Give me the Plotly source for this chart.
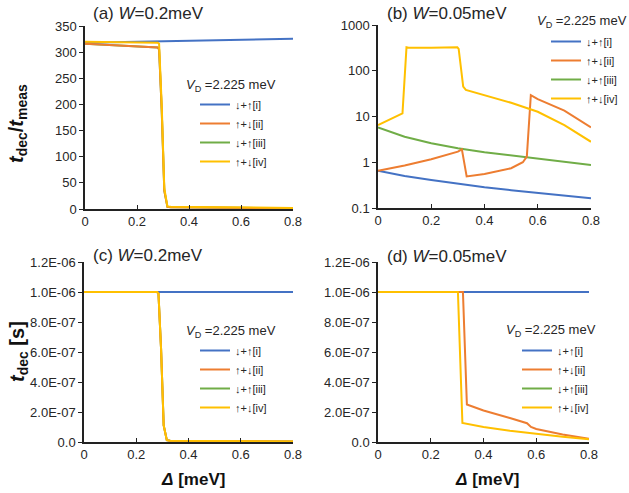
import plotly.graph_objects as go

W, H = 629, 493

# ---------------- data ----------------
series_names = ["↓+↑[i]", "↑+↓[ii]", "↓+↑[iii]", "↑+↓[iv]"]
series_colors = ["#4472C4", "#ED7D31", "#70AD47", "#FFC000"]

# panel (a): t_dec / t_meas, W = 0.2 meV
a_x_i = [0, 0.2, 0.4, 0.6, 0.8]
a_y_i = [318, 320, 322, 324, 325.5]
a_x_ii = [0, 0.28, 0.285, 0.295, 0.305, 0.317, 0.33, 0.5, 0.8]
a_y_ii = [316, 309, 305, 190, 35, 4, 3.5, 2.5, 1.5]
a_x_iii = [0, 0.28, 0.285, 0.295, 0.305, 0.317, 0.33, 0.5, 0.8]
a_y_iii = [316, 309, 305, 190, 35, 4, 3.5, 2.5, 1.5]
a_x_iv = [0, 0.28, 0.285, 0.295, 0.305, 0.317, 0.33, 0.5, 0.8]
a_y_iv = [320, 318, 316, 200, 40, 5, 4.5, 3.5, 2]

# panel (b): t_dec / t_meas, W = 0.05 meV (log)
b_x_i = [0, 0.1, 0.2, 0.3, 0.4, 0.5, 0.6, 0.7, 0.8]
b_y_i = [0.65, 0.50, 0.41, 0.34, 0.285, 0.245, 0.214, 0.187, 0.164]
b_x_ii = [0, 0.1, 0.2, 0.3, 0.315, 0.333, 0.4, 0.5, 0.544, 0.559, 0.574, 0.6, 0.7, 0.8]
b_y_ii = [0.65, 0.85, 1.16, 1.71, 1.92, 0.49, 0.556, 0.74, 1.0, 1.33, 29.4, 24, 13.4, 5.8]
b_x_iii = [0, 0.1, 0.2, 0.3, 0.4, 0.5, 0.6, 0.7, 0.8]
b_y_iii = [5.8, 3.6, 2.6, 2.02, 1.65, 1.4, 1.2, 1.03, 0.875]
b_x_iv = [0, 0.092, 0.107, 0.115, 0.2, 0.298, 0.303, 0.32, 0.33, 0.4, 0.5, 0.6, 0.7, 0.8]
b_y_iv = [6.5, 11.7, 325, 318, 318, 325, 300, 45, 38, 29, 20, 12.7, 6.5, 2.8]

# panel (c): t_dec [s], W = 0.2 meV
c_x_i = [0, 0.8]
c_y_i = [1.0e-6, 1.0e-6]
c_x_drop = [0, 0.28, 0.285, 0.295, 0.305, 0.317, 0.33, 0.5, 0.8]
c_y_drop = [1.0e-6, 1.0e-6, 0.99e-6, 0.62e-6, 0.11e-6, 0.012e-6, 0.009e-6, 0.006e-6, 0.004e-6]

# panel (d): t_dec [s], W = 0.05 meV
d_x_i = [0, 0.8]
d_y_i = [1.0e-6, 1.0e-6]
d_x_ii = [0, 0.322, 0.337, 0.4, 0.5, 0.565, 0.58, 0.6, 0.7, 0.8]
d_y_ii = [1.0e-6, 1.0e-6, 0.25e-6, 0.21e-6, 0.16e-6, 0.125e-6, 0.1e-6, 0.087e-6, 0.05e-6, 0.022e-6]
d_x_iii = [0, 0.8]
d_y_iii = [1.0e-6, 1.0e-6]
d_x_iv = [0, 0.303, 0.32, 0.4, 0.5, 0.6, 0.7, 0.8]
d_y_iv = [1.0e-6, 1.0e-6, 0.127e-6, 0.10e-6, 0.075e-6, 0.053e-6, 0.035e-6, 0.018e-6]

lin_ticks = [0, 50, 100, 150, 200, 250, 300, 350]
log_ticks = [0.1, 1, 10, 100, 1000]
log_ticktext = ["0.1", "1", "10", "100", "1000"]
sec_ticks = [0, 0.2e-6, 0.4e-6, 0.6e-6, 0.8e-6, 1.0e-6, 1.2e-6]
sec_ticktext = ["0.0", "2.0E-07", "4.0E-07", "6.0E-07", "8.0E-07", "1.0E-06", "1.2E-06"]
x_ticks = [0, 0.2, 0.4, 0.6, 0.8]
x_ticktext = ["0", "0.2", "0.4", "0.6", "0.8"]

panels = {
    "a": [(a_x_i, a_y_i), (a_x_ii, a_y_ii), (a_x_iii, a_y_iii), (a_x_iv, a_y_iv)],
    "b": [(b_x_i, b_y_i), (b_x_ii, b_y_ii), (b_x_iii, b_y_iii), (b_x_iv, b_y_iv)],
    "c": [(c_x_i, c_y_i), (c_x_drop, c_y_drop), (c_x_drop, c_y_drop), (c_x_drop, c_y_drop)],
    "d": [(d_x_i, d_y_i), (d_x_ii, d_y_ii), (d_x_iii, d_y_iii), (d_x_iv, d_y_iv)],
}

# ---------------- layout geometry (screen pixels) ----------------
FONT = "Liberation Sans, Arial, sans-serif"
TXT = "#262626"

def px_x(p):
    return p / W

def px_y(p):
    return 1 - p / H

geom = {
    "a": ("x", "y", 85, 293, 26, 209, "legend", (195, 90)),
    "b": ("x2", "y2", 378, 591, 25, 208, "legend2", (546, 27)),
    "c": ("x3", "y3", 84, 293, 262, 442, "legend3", (195, 336)),
    "d": ("x4", "y4", 378, 589, 262, 442, "legend4", (517, 336)),
}

fig = go.Figure()
draw_order = [2, 0, 1, 3]
for key, data in panels.items():
    xa, ya = geom[key][0], geom[key][1]
    leg = geom[key][6]
    for idx in draw_order:
        xs, ys = data[idx]
        fig.add_trace(go.Scatter(
            x=xs, y=ys, mode="lines", name=series_names[idx],
            line=dict(color=series_colors[idx], width=2),
            xaxis=xa, yaxis=ya, legend=leg, legendrank=idx + 1,
            hoverinfo="skip",
        ))

axis_common = dict(
    showgrid=False, zeroline=False, showline=True, linecolor="#222", linewidth=1.5,
    tickfont=dict(family=FONT, size=13, color=TXT), ticklen=4, tickcolor="#222",
    automargin=False,
)

layout = dict(
    template="none",
    width=W, height=H, margin=dict(l=0, r=0, t=0, b=0, pad=0, autoexpand=False),
    paper_bgcolor="white", plot_bgcolor="white",
    font=dict(family=FONT, color=TXT),
    showlegend=True,
)

yconf = {
    "a": dict(range=[0, 350], tickvals=lin_ticks, type="linear"),
    "b": dict(range=[-1, 3], tickvals=log_ticks, ticktext=log_ticktext, type="log"),
    "c": dict(range=[0, 1.2e-6], tickvals=sec_ticks, ticktext=sec_ticktext, type="linear"),
    "d": dict(range=[0, 1.2e-6], tickvals=sec_ticks, ticktext=sec_ticktext, type="linear"),
}

for key, g in geom.items():
    xa, ya, x0, x1, yt, yb, leg, (lx, ly) = g
    xname = "xaxis" if xa == "x" else "xaxis" + xa[1:]
    yname = "yaxis" if ya == "y" else "yaxis" + ya[1:]
    layout[xname] = dict(axis_common, domain=[px_x(x0), px_x(x1)], range=[0, 0.8],
                         tickvals=x_ticks, ticktext=x_ticktext, ticks="inside",
                         anchor=ya)
    layout[yname] = dict(axis_common, domain=[px_y(yb), px_y(yt)], ticks="outside",
                         anchor=xa, **yconf[key])
    layout[leg] = dict(x=px_x(lx), y=px_y(ly), xanchor="left", yanchor="top",
                       bgcolor="rgba(0,0,0,0)", font=dict(family=FONT, size=11, color=TXT),
                       itemwidth=30, tracegroupgap=0, traceorder="normal", borderwidth=0)

fig.update_layout(**layout)

annots = []
titles = [
    ("(a) <i>W</i>=0.2meV", 91, 13),
    ("(b) <i>W</i>=0.05meV", 385, 13),
    ("(c) <i>W</i>=0.2meV", 91, 255),
    ("(d) <i>W</i>=0.05meV", 385, 256),
]
for t, x, y in titles:
    annots.append(dict(text=t, x=px_x(x), y=px_y(y), xref="paper", yref="paper",
                       xanchor="left", yanchor="middle", showarrow=False,
                       font=dict(family=FONT, size=17, color=TXT)))

vd = [(184, 85), (535, 22), (184, 331), (504, 330)]
for x, y in vd:
    annots.append(dict(text="<i>V</i><sub>D</sub> =2.225 meV", x=px_x(x), y=px_y(y),
                       xref="paper", yref="paper", xanchor="left", yanchor="middle",
                       showarrow=False, font=dict(family=FONT, size=13, color=TXT)))

annots.append(dict(text="<b><i>t</i><sub>dec</sub>/<i>t</i><sub>meas</sub></b>",
                   x=px_x(18), y=px_y(124), xref="paper", yref="paper", textangle=-90,
                   xanchor="center", yanchor="middle", showarrow=False,
                   font=dict(family=FONT, size=20, color="#111")))
annots.append(dict(text="<b><i>t</i><sub>dec</sub> [s]</b>",
                   x=px_x(18), y=px_y(352), xref="paper", yref="paper", textangle=-90,
                   xanchor="center", yanchor="middle", showarrow=False,
                   font=dict(family=FONT, size=20, color="#111")))
for cx in (193, 487):
    annots.append(dict(text="<b><i>Δ</i> [meV]</b>", x=px_x(cx), y=px_y(479),
                       xref="paper", yref="paper", xanchor="center", yanchor="middle",
                       showarrow=False, font=dict(family=FONT, size=17, color="#111")))

fig.update_layout(annotations=annots)
fig.write_html("out.html", config={"displayModeBar": False},
               post_script="document.body.style.margin='0';")
